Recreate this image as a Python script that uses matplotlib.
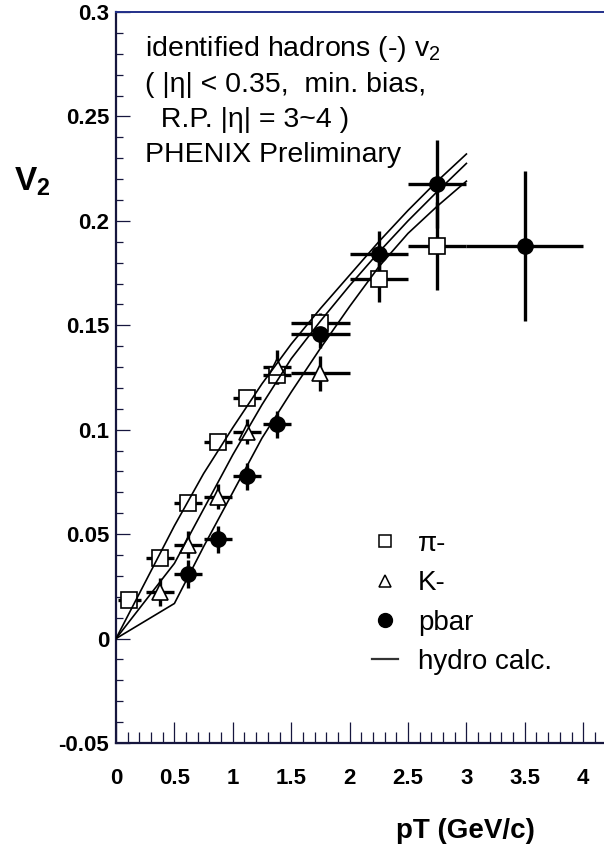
import matplotlib
matplotlib.use("Agg")
import matplotlib.pyplot as plt
from matplotlib.lines import Line2D
from matplotlib.ticker import MultipleLocator, FuncFormatter

plt.rcParams['font.family'] = ['Liberation Sans', 'DejaVu Sans']
plt.rcParams['mathtext.fontset'] = 'custom'
plt.rcParams['mathtext.rm'] = 'Liberation Sans'
plt.rcParams['mathtext.it'] = 'Liberation Sans'
plt.rcParams['mathtext.bf'] = 'Liberation Sans:bold'
plt.rcParams['mathtext.default'] = 'regular'

# pi- points
pi_pt = [0.115, 0.375, 0.62, 0.875, 1.12, 1.375, 1.75, 2.25, 2.75]
pi_v2 = [0.0185, 0.0385, 0.065, 0.094, 0.115, 0.126, 0.151, 0.172, 0.188]
pi_xerr = [0.1, 0.12, 0.12, 0.12, 0.12, 0.12, 0.25, 0.25, 0.25]
pi_yerr = [0.002, 0.002, 0.002, 0.003, 0.003, 0.004, 0.005, 0.011, 0.021]

# K- points
k_pt = [0.375, 0.62, 0.87, 1.12, 1.375, 1.75]
k_v2 = [0.0225, 0.045, 0.068, 0.099, 0.130, 0.127]
k_xerr = [0.12, 0.12, 0.12, 0.12, 0.12, 0.25]
k_yerr = [0.0067, 0.0065, 0.006, 0.006, 0.008, 0.0085]

# pbar points
p_pt = [0.62, 0.87, 1.12, 1.375, 1.75, 2.25, 2.75, 3.5]
p_v2 = [0.031, 0.0475, 0.0777, 0.1025, 0.146, 0.184, 0.2175, 0.188]
p_xerr = [0.12, 0.12, 0.12, 0.12, 0.25, 0.25, 0.25, 0.5]
p_yerr = [0.0066, 0.0065, 0.0065, 0.0065, 0.007, 0.011, 0.021, 0.036]

# hydro calculation
hydro_pt = [0, 0.5, 0.75, 1.0, 1.25, 1.5, 1.75, 2.0, 2.25, 2.5, 2.75, 3.0]
hydro_pi = [0, 0.054, 0.079, 0.101, 0.122, 0.141, 0.158, 0.174, 0.190, 0.205, 0.219, 0.232]
hydro_k = [0, 0.036, 0.062, 0.088, 0.112, 0.134, 0.152, 0.169, 0.185, 0.200, 0.214, 0.2275]
hydro_p = [0, 0.0168, 0.044, 0.070, 0.096, 0.118, 0.139, 0.159, 0.178, 0.194, 0.207, 0.219]

W, H = 604, 847
fig = plt.figure(figsize=(W / 100, H / 100), dpi=100)
ax = fig.add_axes([116 / W, 104 / H, 496.4 / W, 731 / H])
ax.set_xlim(0, 4.25)
ax.set_ylim(-0.05, 0.3)

navy = '#16163e'
for s in ['left', 'bottom']:
    ax.spines[s].set_color(navy)
    ax.spines[s].set_linewidth(1.6)
ax.spines['top'].set_color('#22308a')
ax.spines['top'].set_linewidth(1.4)
ax.spines['right'].set_visible(False)

ax.xaxis.set_major_locator(MultipleLocator(0.5))
ax.xaxis.set_minor_locator(MultipleLocator(0.1))
ax.yaxis.set_major_locator(MultipleLocator(0.05))
ax.yaxis.set_minor_locator(MultipleLocator(0.01))
ax.xaxis.set_major_formatter(FuncFormatter(lambda v, p: f"{v:g}"))
ax.yaxis.set_major_formatter(FuncFormatter(lambda v, p: f"{round(v, 3):g}"))
ax.tick_params(axis='x', which='major', direction='in', length=15, width=0.9,
               color=navy, pad=18, labelsize=16)
ax.tick_params(axis='x', which='minor', direction='in', length=8, width=0.9, color=navy)
ax.tick_params(axis='y', which='major', direction='in', length=10, width=0.9,
               color=navy, pad=5, labelsize=16)
ax.tick_params(axis='y', which='minor', direction='in', length=5, width=0.9, color=navy)
ax.tick_params(top=False, right=False)
for lab in ax.get_xticklabels() + ax.get_yticklabels():
    lab.set_fontweight('bold')

# error bars under the markers
bar_kw = dict(fmt='none', ecolor='black', elinewidth=2.4, capsize=0, zorder=2)
ax.errorbar(pi_pt, pi_v2, xerr=pi_xerr, yerr=pi_yerr, **bar_kw)
ax.errorbar(k_pt, k_v2, xerr=k_xerr, yerr=k_yerr, **bar_kw)
ax.errorbar(p_pt, p_v2, xerr=p_xerr, yerr=p_yerr, **bar_kw)

ax.plot(pi_pt, pi_v2, 's', ms=11, mfc='white', mec='black', mew=1.2, zorder=3)
ax.plot(k_pt, k_v2, '^', ms=11, mfc='white', mec='black', mew=1.2, zorder=3)
ax.plot(p_pt, p_v2, 'o', ms=11, mfc='black', mec='black', zorder=3)

for hv in (hydro_pi, hydro_k, hydro_p):
    ax.plot(hydro_pt, hv, '-', color='black', lw=1.2, zorder=4)

# legend
handles = [
    Line2D([], [], ls='none', marker='s', ms=9, mfc='white', mec='black', mew=1.1),
    Line2D([], [], ls='none', marker='^', ms=9, mfc='white', mec='black', mew=1.1),
    Line2D([], [], ls='none', marker='o', ms=10, mfc='black', mec='black'),
    Line2D([], [], color='#333333', lw=1.6),
]
ax.legend(handles, ['\u03c0-', 'K-', 'pbar', 'hydro calc.'], loc='upper left',
          bbox_to_anchor=(372 / W, 1 - 531 / H), bbox_transform=fig.transFigure,
          frameon=False, fontsize=20, handlelength=0.95, handletextpad=0.7,
          labelspacing=0.48, borderpad=0, borderaxespad=0)

# annotation text
lines = ['identified hadrons (-) v$_2$',
         '( |\u03b7| < 0.35,  min. bias,',
         '  R.P. |\u03b7| = 3~4 )',
         'PHENIX Preliminary']
for i, t in enumerate(lines):
    fig.text(145 / W, 1 - (56 + 35.5 * i) / H, t, fontsize=20.5, va='baseline', ha='left')

fig.text(14 / W, 1 - 182 / H, r'$\mathbf{V_2}$', fontsize=24, va='center', ha='left')
fig.text(465 / W, 1 - 831 / H, 'pT (GeV/c)', fontsize=20, fontweight='bold',
         va='center', ha='center')

fig.savefig('out.png', dpi=100)
